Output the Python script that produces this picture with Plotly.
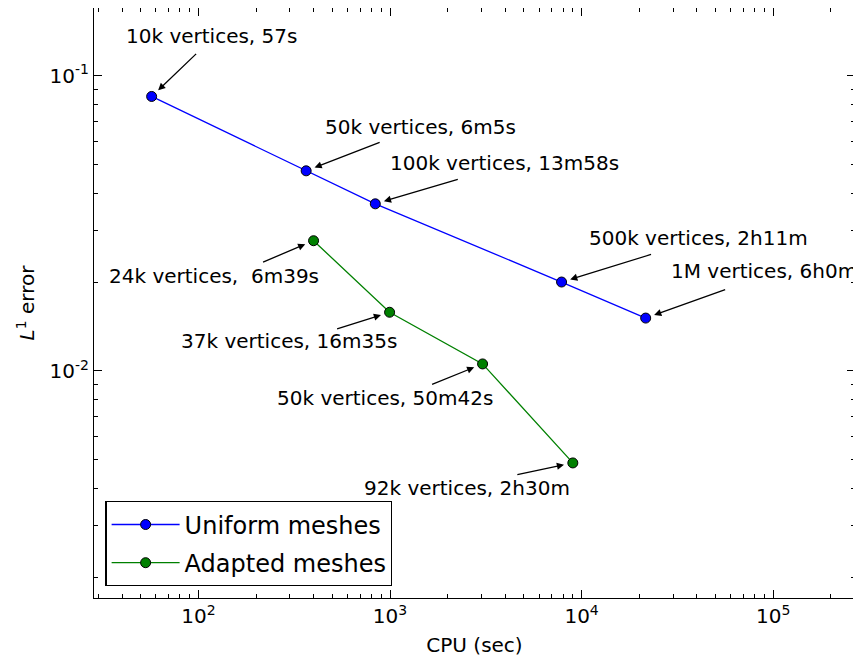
import math
import plotly.graph_objects as go

# ---- data ----
cpu_uniform = [57, 365, 838, 7860, 21600]
err_uniform = [0.085, 0.0476, 0.0368, 0.0200, 0.0151]
labels_uniform = ["10k vertices, 57s", "50k vertices, 6m5s", "100k vertices, 13m58s",
                  "500k vertices, 2h11m", "1M vertices, 6h0m"]

cpu_adapted = [399, 995, 3042, 9000]
err_adapted = [0.0276, 0.0158, 0.01056, 0.00488]
labels_adapted = ["24k vertices,  6m39s", "37k vertices, 16m35s",
                  "50k vertices, 50m42s", "92k vertices, 2h30m"]

x_tickvals = [1e2, 1e3, 1e4, 1e5]
x_ticktext = ["10<sup>2</sup>", "10<sup>3</sup>", "10<sup>4</sup>", "10<sup>5</sup>"]
y_tickvals = [1e-2, 1e-1]
y_ticktext = ["10<sup>-2</sup>", "10<sup>-1</sup>"]

# label placement (pixel offsets: text centre, arrow tail) -- styling only
text_off_u = [(60, -60), (114, -44), (129, -41), (137, -44), (118, -47)]
tail_off_u = [(46, -44), (75, -29), (84, -25), (91, -28), (81, -29)]
text_off_a = [(-100, 35), (-101, 29), (-98, 34), (-106, 25)]
tail_off_a = [(-52, 22), (-54, 17), (-52, 21), (-57, 12)]

FONT = "DejaVu Sans"

fig = go.Figure()
fig.add_trace(go.Scatter(
    x=cpu_uniform, y=err_uniform, mode="lines+markers", name="Uniform meshes",
    legendgroup="u",
    line=dict(color="#0000ff", width=1.3),
    marker=dict(size=10, color="#0000ff", line=dict(color="black", width=1))))
fig.add_trace(go.Scatter(
    x=cpu_adapted, y=err_adapted, mode="lines+markers", name="Adapted meshes",
    legendgroup="a",
    line=dict(color="#008000", width=1.3),
    marker=dict(size=10, color="#008000", line=dict(color="black", width=1))))

annotations = []
def add_labels(xs, ys, labels, toffs, aoffs):
    for x, y, lab, (tx, ty), (ax, ay) in zip(xs, ys, labels, toffs, aoffs):
        lx, ly = math.log10(x), math.log10(y)
        annotations.append(dict(
            x=lx, y=ly, xref="x", yref="y", text="", showarrow=True,
            ax=ax, ay=ay, axref="pixel", ayref="pixel",
            arrowhead=2, arrowsize=1.1, arrowwidth=1.3, arrowcolor="black",
            standoff=9))
        annotations.append(dict(
            x=lx, y=ly, xref="x", yref="y", text=lab, showarrow=False,
            xshift=tx, yshift=-ty, xanchor="center", yanchor="middle",
            font=dict(family=FONT, size=20, color="black")))

add_labels(cpu_uniform, err_uniform, labels_uniform, text_off_u, tail_off_u)
add_labels(cpu_adapted, err_adapted, labels_adapted, text_off_a, tail_off_a)

axis_common = dict(
    showline=True, linecolor="black", linewidth=1.2, mirror="allticks",
    ticks="inside", ticklen=8, tickwidth=1, tickcolor="black",
    showgrid=False, zeroline=False, automargin=False,
    tickfont=dict(family=FONT, size=20, color="black"),
    minor=dict(ticks="inside", ticklen=4, tickwidth=1, tickcolor="black",
               dtick="D1", showgrid=False),
)

# page body has an 8px margin, so the figure is sized/offset to compensate
fig.update_layout(
    width=853, height=653,
    margin=dict(l=86, r=6, t=0, b=63),
    paper_bgcolor="white", plot_bgcolor="white",
    font=dict(family=FONT, color="black"),
    xaxis=dict(type="log", range=[1.455, 5.427], tickvals=x_tickvals, ticktext=x_ticktext,
               title=dict(text="CPU (sec)", font=dict(family=FONT, size=20), standoff=10),
               **axis_common),
    yaxis=dict(type="log", range=[-2.769, -0.771], tickvals=y_tickvals, ticktext=y_ticktext,
               title=dict(text="<i>L</i><sup>1</sup> error", font=dict(family=FONT, size=20),
                          standoff=9),
               **axis_common),
    legend=dict(x=0.015, y=0.02, xanchor="left", yanchor="bottom",
                bordercolor="black", borderwidth=1.2, bgcolor="white",
                font=dict(family=FONT, size=24, color="black"),
                itemwidth=68, tracegroupgap=4),
    showlegend=True,
    annotations=annotations,
)

fig.write_html("out.html")
